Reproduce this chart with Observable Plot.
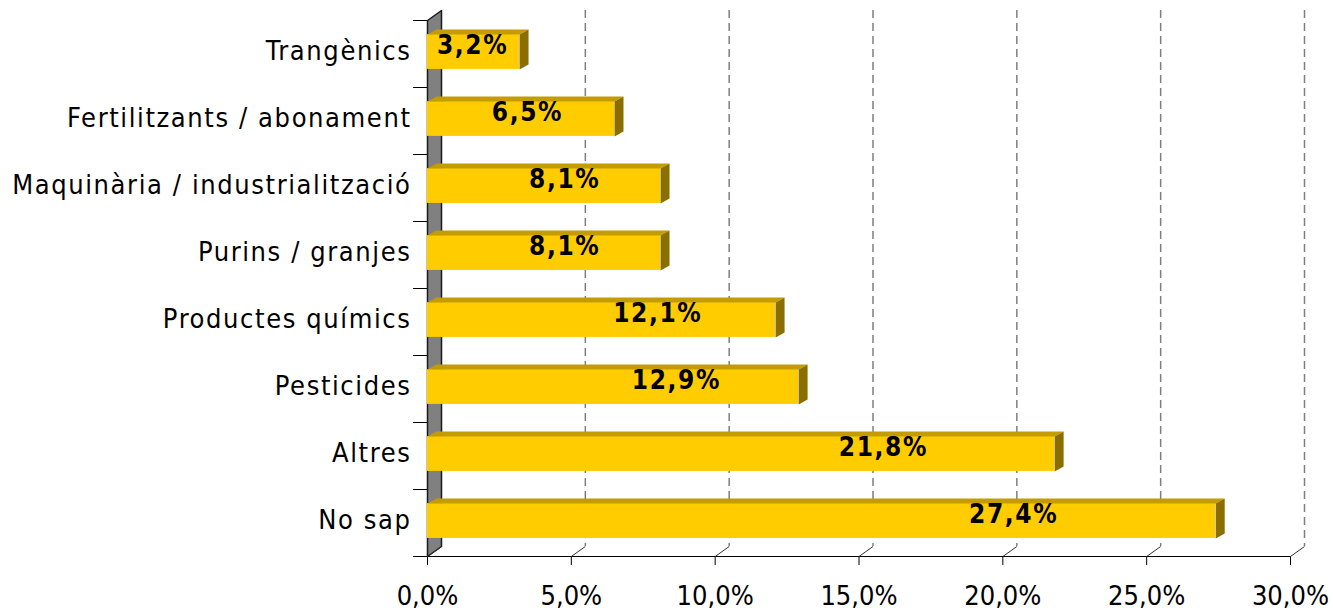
<!DOCTYPE html>
<html>
<head>
<meta charset="utf-8">
<script src="https://cdn.jsdelivr.net/npm/d3@7"></script>
<script src="https://cdn.jsdelivr.net/npm/@observablehq/plot@0.6"></script>
<style>
  html, body { margin: 0; padding: 0; background: #ffffff; }
  #chart svg { font-family: "DejaVu Sans Condensed", "DejaVu Sans", sans-serif; font-stretch: condensed; }
  #chart svg g[aria-label="text"] text { letter-spacing: 1.6px; }
</style>
</head>
<body>
<div id="chart"></div>
<script>
// ---- data ----
const categories = [
  "Trangènics",
  "Fertilitzants / abonament",
  "Maquinària / industrialització",
  "Purins / granjes",
  "Productes químics",
  "Pesticides",
  "Altres",
  "No sap"
];
const values = [3.2, 6.5, 8.1, 8.1, 12.1, 12.9, 21.8, 27.4];
const xTicks = [0, 5, 10, 15, 20, 25, 30];

// ---- layout ----
const W = 1333, H = 615;
const mL = 427, mR = 43, mT = 20, mB = 59;
const xMax = 30, nCat = categories.length;
const kx = (W - mL - mR) / xMax;      // px per %
const ky = (H - mT - mB) / nCat;      // px per band
const wallDX = 14 / kx, wallDY = 10 / ky;  // depth of the back plane
const barDX = 9 / kx, barDY = 5 / ky;      // depth of the bars
const fmt = v => v.toFixed(1).replace(".", ",") + "%";

const rows = categories.map((c, k) => ({cat: c, v: values[k], k}));

// polygons (in data units) for the 3D faces
const topPts = [], sidePts = [];
rows.forEach(d => {
  const y0 = d.k + 0.21, y1 = d.k + 0.73;
  topPts.push(
    {k: d.k, x: 0, y: y0}, {k: d.k, x: d.v, y: y0},
    {k: d.k, x: d.v + barDX, y: y0 - barDY}, {k: d.k, x: barDX, y: y0 - barDY}
  );
  sidePts.push(
    {k: d.k, x: d.v, y: y0}, {k: d.k, x: d.v, y: y1},
    {k: d.k, x: d.v + barDX, y: y1 - barDY}, {k: d.k, x: d.v + barDX, y: y0 - barDY}
  );
});
const wallPts = [
  {x: 0, y: 0}, {x: 0, y: nCat}, {x: wallDX, y: nCat - wallDY},
  {x: wallDX, y: -wallDY}, {x: 0, y: 0}
];

const chart = Plot.plot({
  width: W, height: H,
  marginLeft: mL, marginRight: mR, marginTop: mT, marginBottom: mB,
  style: {background: "#ffffff", color: "#000000"},
  x: {domain: [0, xMax], label: null},
  y: {domain: [0, nCat], reverse: true, label: null},
  marks: [
    // dashed gridlines on the back wall
    Plot.ruleX(xTicks.filter(t => t > 0), {
      x: t => t + wallDX, y1: -wallDY, y2: nCat - wallDY,
      stroke: "#7f7f7f", strokeWidth: 1.5, strokeDasharray: "8,5"
    }),
    // left side wall
    Plot.line(wallPts, {x: "x", y: "y", fill: "#808080", stroke: "#1a1a1a", strokeWidth: 1.5}),
    // left axis ticks
    Plot.axisY({ticks: d3.range(0, nCat + 1), tickSize: 14, tickFormat: () => "", stroke: "#000", label: null}),
    // category labels
    Plot.text(rows, {
      x: 0, y: d => d.k + 0.46, text: "cat", dx: -16, textAnchor: "end",
      fontSize: 27, fill: "#000"
    }),
    // bottom axis line and ticks
    Plot.ruleY([nCat], {x1: 0, x2: xMax, stroke: "#000", strokeWidth: 1.2}),
    Plot.axisX({
      ticks: xTicks, tickSize: 9, tickPadding: 20, tickFormat: fmt,
      fontSize: 27, stroke: "#000", label: null
    }),
    Plot.link(xTicks, {
      x1: t => t, y1: nCat, x2: t => t + wallDX, y2: nCat - wallDY,
      stroke: "#333", strokeWidth: 1
    }),
    // bars: front, top, side faces
    Plot.rect(rows, {x1: 0, x2: "v", y1: d => d.k + 0.21, y2: d => d.k + 0.73, fill: "#FFCC00"}),
    Plot.line(topPts, {x: "x", y: "y", z: "k", fill: "#C49C00", stroke: "none"}),
    Plot.line(sidePts, {x: "x", y: "y", z: "k", fill: "#8A6E00", stroke: "none"}),
    // value labels
    Plot.text(rows, {
      x: d => Math.max(0.8086 * d.v - 1.78, 0.49 * d.v),
      y: d => d.k + 0.37,
      text: d => fmt(d.v),
      fontSize: 26, fontWeight: "bold", fill: "#000"
    })
  ]
});
document.getElementById("chart").appendChild(chart);
</script>
</body>
</html>
